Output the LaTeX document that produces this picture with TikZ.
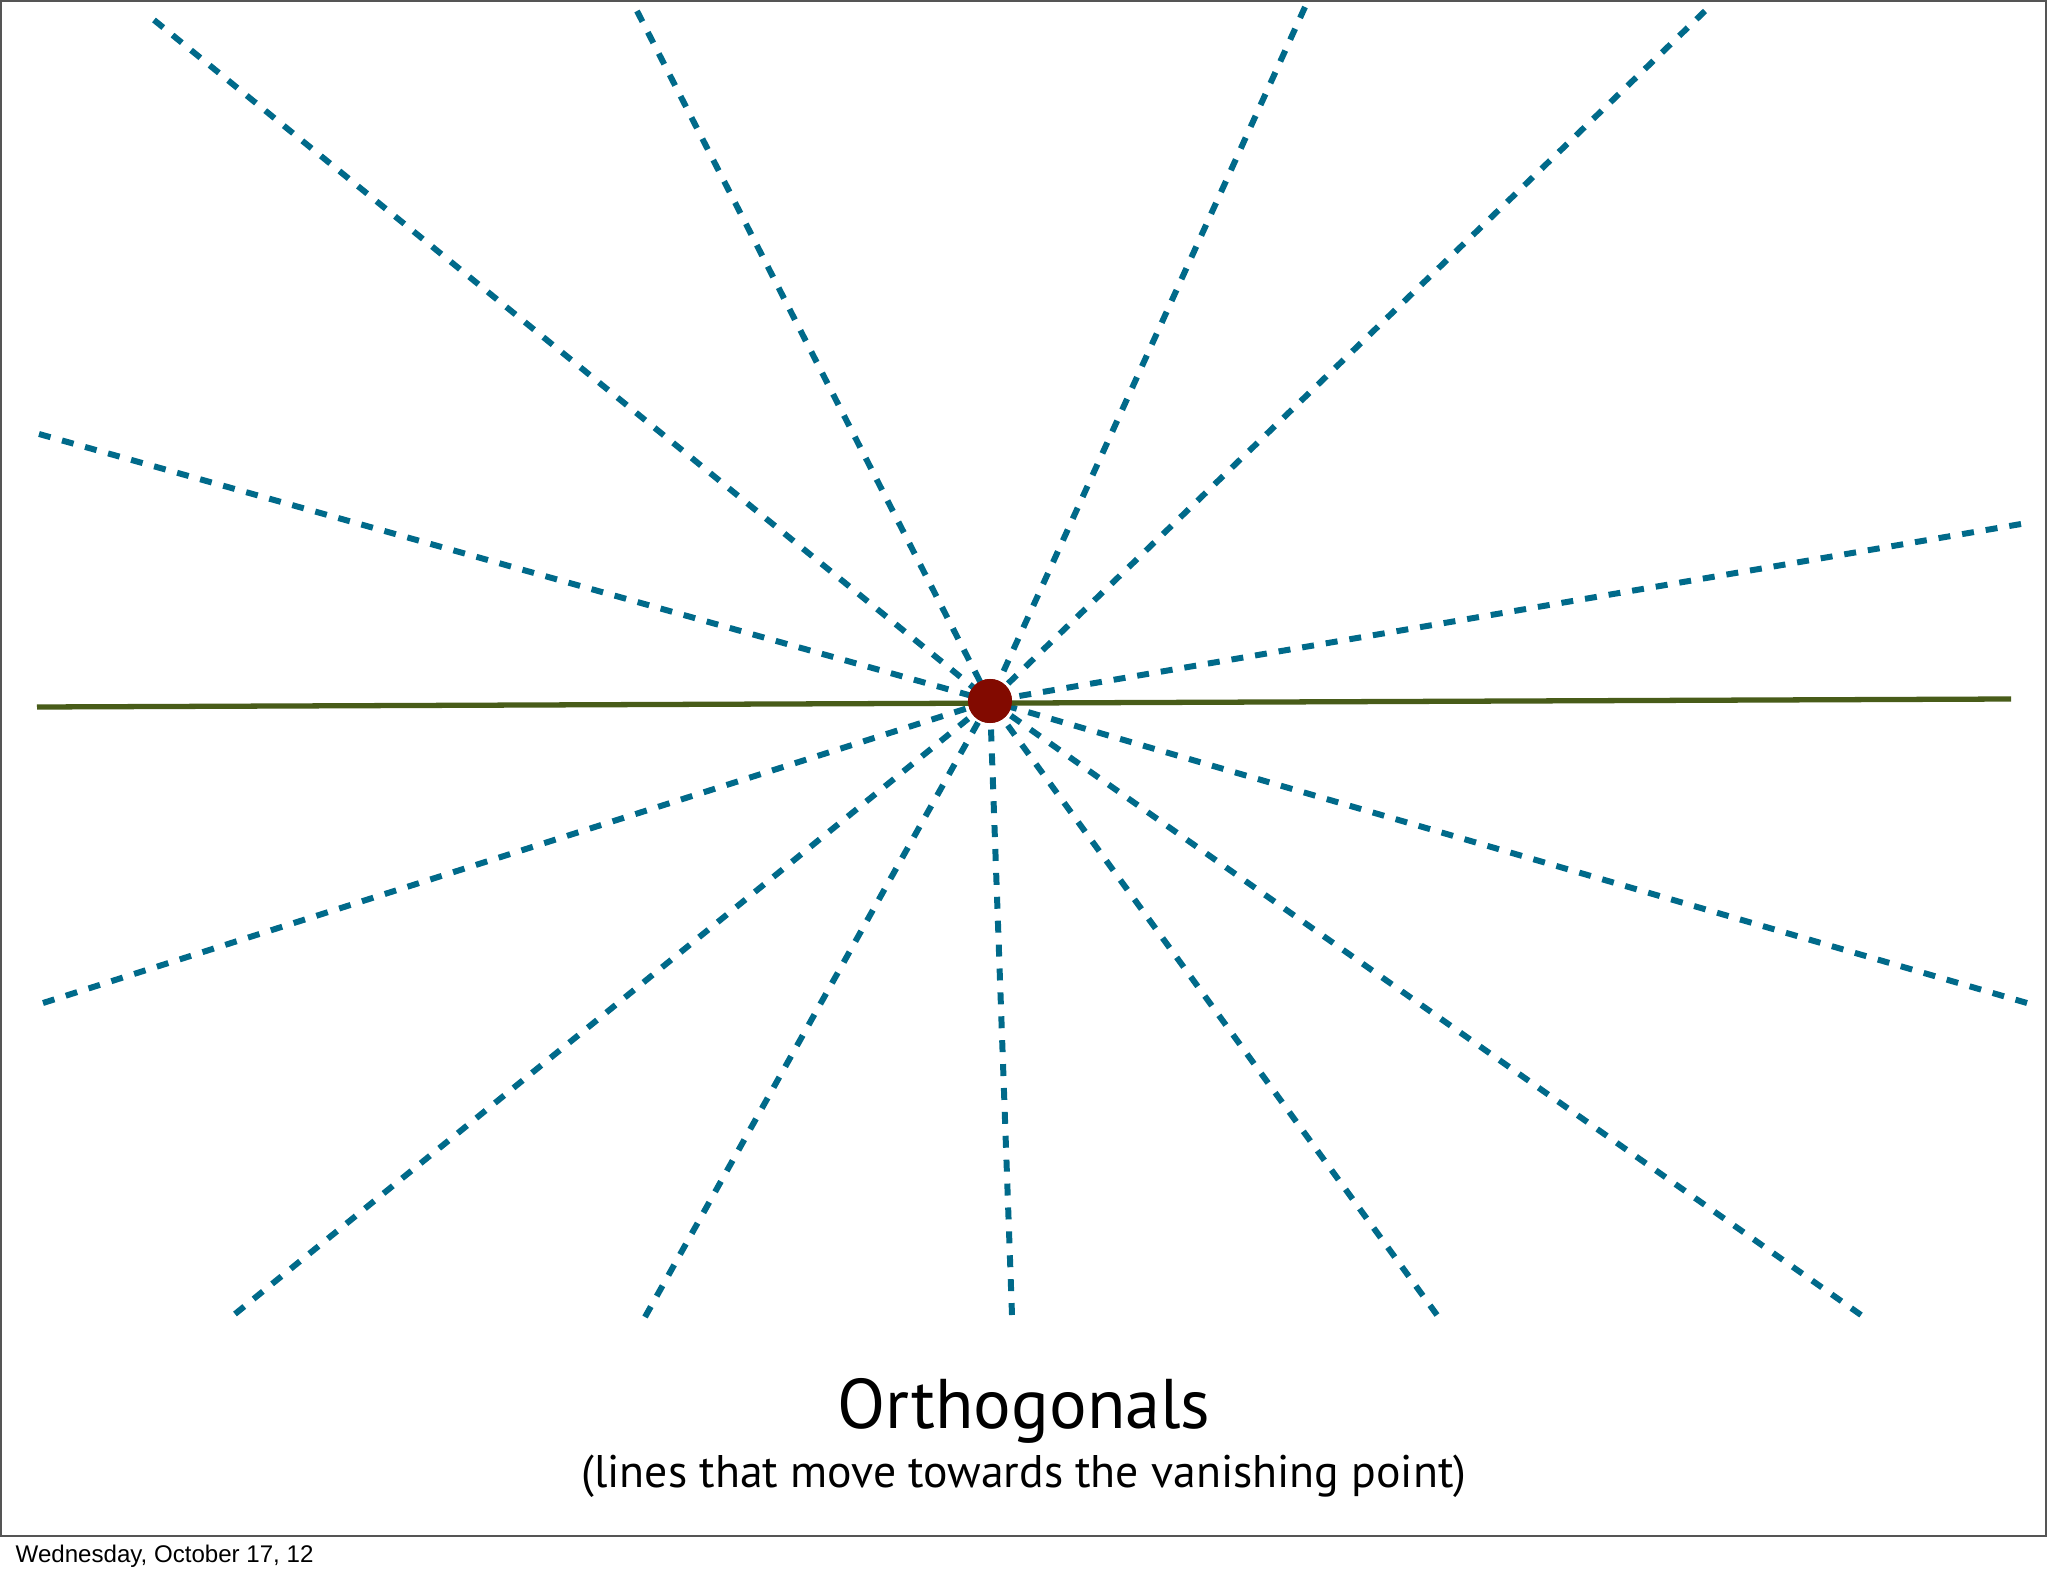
\documentclass[tikz,border=0pt]{standalone}
\usepackage{fontspec}
\setmainfont{PT Sans}
\newfontfamily\footfont{Liberation Sans}
\usetikzlibrary{calc}
\definecolor{orthoblue}{RGB}{0,106,138}
\definecolor{horizongreen}{RGB}{72,92,25}
\definecolor{vpred}{RGB}{130,10,0}
\definecolor{framegray}{RGB}{85,85,85}

\begin{document}
\begin{tikzpicture}[x=0.01cm, y=-0.01cm,
	ortho/.style={orthoblue, line width=1.7pt, dash pattern=on 3.4pt off 3.4pt},
	horizon/.style={horizongreen, line width=1.5pt},
	vpdot/.style={circle, fill=vpred, inner sep=0pt, minimum size=0.44cm}]

	\useasboundingbox[fill=white] (0,0) rectangle (2048,1576);
	\draw[framegray, line width=0.6pt] (1,1) rectangle (2046,1536);

	\node[vpdot] (vp) at (990,701) {};
	\coordinate (hl) at (37,707);
	\coordinate (hr) at (2011,699);

	% ends of the orthogonals
	\coordinate (t1) at (154,20);
	\coordinate (t2) at (637,11);
	\coordinate (t3) at (1305,7);
	\coordinate (t4) at (1705,11);
	\coordinate (l1) at (39,434);
	\coordinate (r1) at (2021,524);
	\coordinate (l2) at (43,1003);
	\coordinate (r2) at (2027,1003);
	\coordinate (b1) at (235,1314);
	\coordinate (b2) at (645,1317);
	\coordinate (b3) at (1012,1315);
	\coordinate (b4) at (1437,1315);
	\coordinate (b5) at (1861,1315);

	\draw[ortho] (t1) -- (vp.center);
	\draw[ortho] (t2) -- (vp.center);
	\draw[ortho] (t3) -- (vp.center);
	\draw[ortho] (t4) -- (vp.center);
	\draw[ortho] (l1) -- (vp.center);
	\draw[ortho] (r1) -- (vp.center);
	\draw[ortho] (l2) -- (vp.center);
	\draw[ortho] (r2) -- (vp.center);
	\draw[ortho] (b1) -- (vp.center);
	\draw[ortho] (b2) -- (vp.center);
	\draw[ortho] (b3) -- (vp.center);
	\draw[ortho] (b4) -- (vp.center);
	\draw[ortho] (b5) -- (vp.center);

	\draw[horizon] (hl) -- (hr);
	\node[vpdot] at (vp) {};

	\node[anchor=base, font=\fontsize{20}{24}\selectfont] (title) at (1024,1428) {Orthogonals};
	\node[anchor=base, font=\fontsize{13}{16}\selectfont] (subtitle) at (1024,1487) {(lines that move towards the vanishing point)};
	\node[anchor=base west, inner sep=0pt, font=\footfont\fontsize{6.85}{8}\selectfont] (date) at (15,1562) {Wednesday, October 17, 12};
\end{tikzpicture}
\end{document}
